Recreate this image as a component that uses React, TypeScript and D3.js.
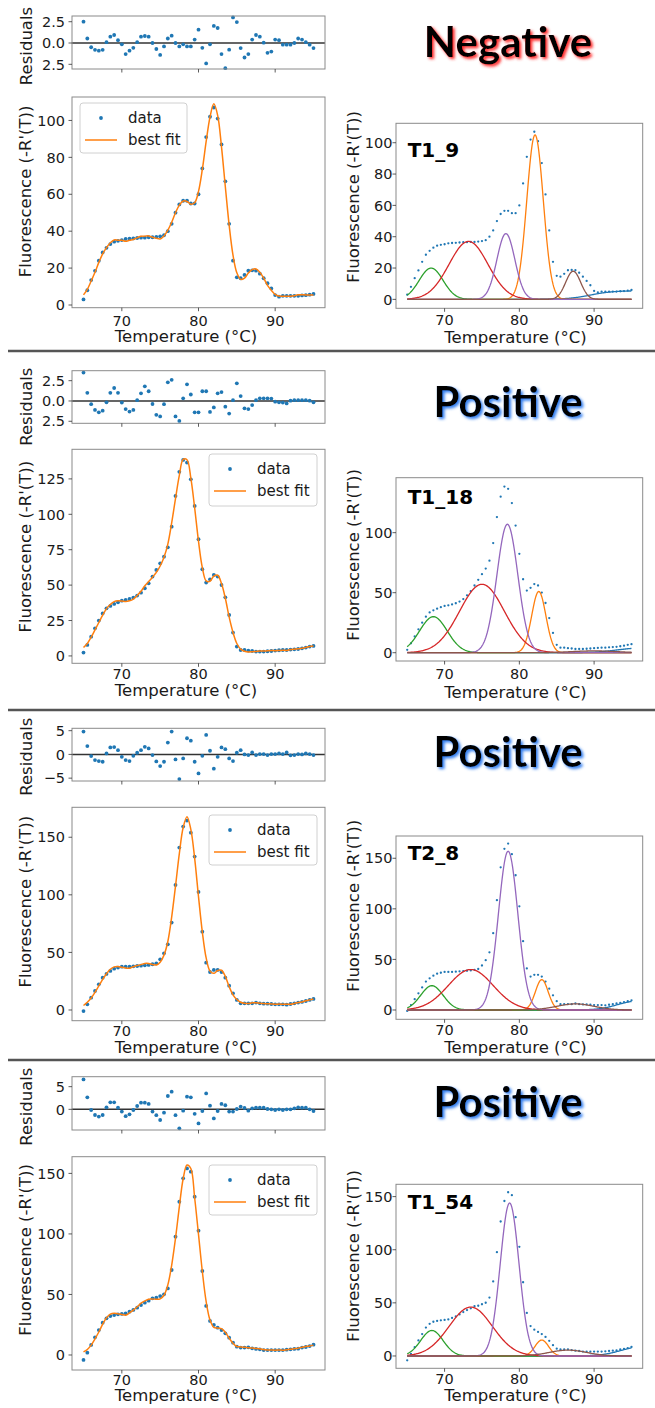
import React from "react";
import * as d3 from "d3";

// ---------------- DATA ----------------
const temperatures = [
  65, 65.5, 66, 66.5, 67, 67.5, 68, 68.5, 69, 69.5, 70, 70.5, 71, 71.5, 72, 72.5, 73, 73.5, 74, 74.5,
  75, 75.5, 76, 76.5, 77, 77.5, 78, 78.5, 79, 79.5, 80, 80.5, 81, 81.5, 82, 82.5, 83, 83.5, 84, 84.5,
  85, 85.5, 86, 86.5, 87, 87.5, 88, 88.5, 89, 89.5, 90, 90.5, 91, 91.5, 92, 92.5, 93, 93.5, 94, 94.5, 95,
];

const dataT1_9 = [3, 8, 13.5, 18.5, 24, 28.5, 31, 33, 34.3, 34.8, 35.2, 35.8, 36, 36.1, 36.3, 36.5, 36.5, 36.7, 36.7, 36.9,
  37.2, 37.8, 40, 44, 50, 54.5, 56.5, 56.5, 55, 55, 60, 74, 91, 102, 107, 101, 87, 67, 44, 24,
  15, 14.5, 16.3, 18.6, 18.8, 18.6, 17, 14.5, 11.8, 9, 5.4, 4.5, 5, 5, 5, 5, 5, 5.2, 5.3, 5.6, 6];
const residT1_9 = [2.5, 0.53, -0.5, -0.8, -0.9, -0.8, 0.1, 0.74, 0.94, 0.33, -0.16, -1.3, -0.9, -0.57, 0.1, 0.74, 0.82, 0.74, 0, -0.7,
  -1.4, -0.4, 0.53, 0.86, 0, -0.4, -0.16, -0.4, -0.4, 0.4, 1.56, -0.57, -2.4, -0.16, 2.0, 1.76, -1.3, -2.95, -0.78, 3.0,
  2.46, -0.6, -1.7, -1.3, 0.4, 0.94, 0.74, 0.04, -1.15, -1.0, 0.4, 0.33, -0.2, -0.2, -0.2, 0, 0.53, 0.4, 0.1, -0.2, -0.6];

const dataT1_18 = [2.4, 7.8, 13.6, 19.5, 25, 30, 33.6, 35.3, 36.7, 37.9, 39, 39.5, 40.2, 41.2, 42.6, 44.7, 47.8, 51.3, 56, 60.7,
  65.4, 70.1, 76.7, 91.3, 113, 130, 138.4, 136.5, 124.7, 105.9, 82.4, 61.2, 51.8, 54.1, 57.2, 56, 50.1, 41.4, 28.9, 16.5,
  6.6, 4.2, 4.2, 3.8, 3.5, 3.1, 3.1, 3.1, 3.3, 3.5, 3.8, 4, 4.2, 4.2, 4.5, 4.7, 4.9, 5.4, 5.9, 6.6, 7.1];
const residT1_18 = [3.5, 1.0, -0.4, -1.1, -1.4, -1.2, -0.16, 1.0, 1.6, 1.0, -0.2, -1.0, -1.3, -1.1, 0.1, 0.94, 1.8, 1.2, -0.37, -1.7,
  -1.9, -0.4, 2.3, 2.6, -1.9, -2.46, 0.33, 2.05, 0.8, -1.4, -1.4, 1.2, 1.2, -1.35, -0.8, 0.94, 1.1, -0.7, -1.55, 0.1,
  2.17, 0.6, -0.9, -1.0, -0.5, 0.1, 0.33, 0.33, 0.33, 0.3, -0.08, -0.16, -0.2, -0.3, 0.04, 0.1, 0.1, 0.1, 0.1, 0.04, -0.16];

const dataT2_8 = [-0.9, 4.9, 10.7, 16.5, 22.3, 28.1, 31.3, 33.9, 35.9, 36.8, 37.6, 37.6, 37.6, 37.9, 38.2, 38.5, 38.8, 39.1, 39.7, 40.5,
  44, 49.2, 57, 75.9, 108.6, 141, 159.3, 164.5, 154, 133.2, 102.5, 68, 41.1, 33, 34.8, 34.8, 33, 28.1, 21.1, 14.5,
  8.7, 5.8, 5.8, 5.8, 5.8, 6.4, 5.8, 5.5, 5.5, 5.2, 4.9, 4.9, 4.9, 4.6, 5.2, 5.8, 6.4, 7, 7.8, 8.7, 9.6];
const residT2_8 = [4.8, 1.76, -0.35, -1.2, -1.4, -1.55, 0.2, 1.48, 1.55, 0.9, -0.5, -1.2, -1.4, -0.3, 0.35, 0.9, 1.6, 1.27, -0.14, -1.48,
  -2.46, -1.55, 2.5, 4.8, -1.06, -5.2, -0.85, 3.4, 2.9, -1.55, -4.0, -0.3, 4.1, 0.77, -3.0, -0.5, 1.48, 1.1, -0.85, -1.4,
  0.35, 0.9, 0, -0.14, 0.4, -0.14, 0.07, 0.07, -0.14, 0.07, 0.07, 0.2, 0.07, 0.4, -0.2, -0.14, 0.07, 0, 0.2, 0.07, -0.14];

const dataT1_54 = [-4.1, 1.9, 8.3, 14.6, 20.6, 26.7, 30.3, 32.2, 33, 33.6, 33.9, 34.4, 35.8, 37.2, 39.1, 41.3, 43.2, 44.9, 46.8, 47.3,
  48.7, 50.1, 55, 70.2, 97.7, 126.6, 145.9, 154.1, 151.4, 130.7, 102.7, 69.4, 40.5, 28.1, 24.8, 22.6, 20.6, 17.9, 14.3, 10.2,
  6.9, 6.1, 6.1, 6.3, 5.5, 5, 4.7, 4.1, 4.1, 4.1, 4.1, 4.1, 4.1, 4.4, 4.7, 5, 5.2, 6.1, 6.6, 7.4, 8.5];
const residT1_54 = [6.6, 2.65, -0.15, -1.25, -1.6, -1.25, 0.44, 1.54, 1.54, 0.37, -0.5, -1.5, -1.1, -0.15, 0.74, 1.47, 1.47, 1.2, -0.5, -1.3,
  -2.35, -0.74, 2.94, 3.9, -1.3, -4.2, -0.3, 2.8, 2.65, -1.0, -3.1, -0.37, 3.5, 0.8, -2.0, -0.37, 1.2, 0.9, -0.5, -0.5,
  0.07, 0.6, 0.3, -0.3, 0.22, 0.37, 0.37, 0.37, 0.07, 0, -0.15, 0, -0.15, 0, 0, 0.22, 0.44, 0.37, 0.37, 0, -0.37];

// fitted peak components: [centre °C, height, sigma], order: orange, green, red, purple, brown
const peaksT1_9 = [[82.1, 105, 1.1], [68.2, 20, 1.6], [73.2, 37, 2.6], [78.2, 42, 1.2], [87.2, 18, 1.0]];
const peaksT1_18 = [[82.6, 51, 0.95], [68.5, 30, 1.85], [75.0, 57, 3.0], [78.4, 107, 1.4], [90.0, 1.5, 3.0]];
const peaksT2_8 = [[83.0, 30, 0.85], [68.3, 24, 1.5], [73.5, 40, 3.0], [78.5, 157, 1.3], [87.5, 6, 2.5]];
const peaksT1_54 = [[83.0, 15, 0.9], [68.3, 24, 1.5], [73.5, 46, 2.9], [78.7, 144, 1.25], [86.5, 5.5, 2.5]];
// rising baseline component: [height, midpoint °C, width]
const baselineT1_9 = [5.5, 89.5, 1.5];
const baselineT1_18 = [4.5, 93, 1.5];
const baselineT2_8 = [10, 93, 1.2];
const baselineT1_54 = [10, 93.5, 1.3];

const sampleNames = ["T1_9", "T1_18", "T2_8", "T1_54"];
const verdicts = ["Negative", "Positive", "Positive", "Positive"];
const xTickValues = [70, 80, 90];

// ---------------- STYLE / LAYOUT ----------------
const FONT = "'DejaVu Sans', Verdana, sans-serif";
const TITLE_FONT = "Lato, 'Open Sans', sans-serif";
const SPINE = "#8a8a8a";
const TICK = "#333";
const TXT = "#1a1a1a";
const C0 = "#1f77b4";
const componentColors = ["#ff7f0e", "#2ca02c", "#d62728", "#9467bd", "#8c564b"];
const X_DOMAIN = [63.5, 96.5];
const LX = [72, 325];
const RX = [396, 642.7];

const gaussian = (t: number, p: number[]) => p[1] * Math.exp(-((t - p[0]) ** 2) / (2 * p[2] * p[2]));
const logistic = (t: number, p: number[]) => p[0] / (1 + Math.exp(-(t - p[1]) / p[2]));

type Cfg = any;
const panels: Cfg[] = [
  {
    data: dataT1_9, resid: residT1_9, peaks: peaksT1_9, baseline: baselineT1_9, glow: "glowRed", titleY: 57,
    res: { y0: 16, y1: 69, dom: [-3.05, 3.17], ticks: [-2.5, 0, 2.5], labels: ["2.5", "0.0", "2.5"], labelY: 46 },
    main: { y0: 97, y1: 307.7, dom: [-1.46, 112.7], ticks: [0, 20, 40, 60, 80, 100], labelY: 191.5, xTickY: 320.7, xLabelY: 336 },
    legend: { x: 80, y: 103, w: 107, h: 50 },
    right: { y0: 123.3, y1: 308.3, dom: [-5.7, 112.4], ticks: [0, 20, 40, 60, 80, 100], labelY: 197, xTickY: 320, xLabelY: 336.7, nameY: 156.7 },
  },
  {
    data: dataT1_18, resid: residT1_18, peaks: peaksT1_18, baseline: baselineT1_18, glow: "glowBlue", titleY: 417,
    res: { y0: 370.7, y1: 423.3, dom: [-2.75, 3.73], ticks: [-2.5, 0, 2.5], labels: ["2.5", "0.0", "2.5"], labelY: 406.7 },
    main: { y0: 449.3, y1: 663.3, dom: [-5.2, 145.9], ticks: [0, 25, 50, 75, 100, 125], labelY: 546.7, xTickY: 673.3, xLabelY: 690 },
    legend: { x: 209, y: 454, w: 108, h: 52 },
    right: { y0: 477.7, y1: 661, dom: [-6.9, 145.8], ticks: [0, 50, 100], labelY: 555, xTickY: 673.3, xLabelY: 692, nameY: 504 },
  },
  {
    data: dataT2_8, resid: residT2_8, peaks: peaksT2_8, baseline: baselineT2_8, glow: "glowBlue", titleY: 767,
    res: { y0: 728.3, y1: 781, dom: [-5.6, 5.5], ticks: [-5, 0, 5], labels: ["\u22125", "0", "5"], labelY: 756.7 },
    main: { y0: 807.3, y1: 1020.7, dom: [-9.3, 176], ticks: [0, 50, 100, 150], labelY: 901.7, xTickY: 1031, xLabelY: 1047 },
    legend: { x: 209, y: 815, w: 108, h: 50 },
    right: { y0: 836, y1: 1019.3, dom: [-9.2, 172], ticks: [0, 50, 100, 150], labelY: 905.8, xTickY: 1030, xLabelY: 1047, nameY: 860 },
  },
  {
    data: dataT1_54, resid: residT1_54, peaks: peaksT1_54, baseline: baselineT1_54, glow: "glowBlue", titleY: 1117,
    res: { y0: 1076.7, y1: 1130, dom: [-4.56, 7.2], ticks: [0, 5], labels: ["0", "5"], labelY: 1106.7 },
    main: { y0: 1156.7, y1: 1370, dom: [-12.4, 163.8], ticks: [0, 50, 100, 150], labelY: 1250, xTickY: 1380, xLabelY: 1395 },
    legend: { x: 209, y: 1165, w: 108, h: 50 },
    right: { y0: 1184.3, y1: 1368.3, dom: [-11.6, 161.6], ticks: [0, 50, 100, 150], labelY: 1256, xTickY: 1379, xLabelY: 1395, nameY: 1209 },
  },
];

// ---------------- COMPONENTS ----------------
function Frame({ x0, x1, y0, y1 }: any) {
  return <rect x={x0} y={y0} width={x1 - x0} height={y1 - y0} fill="none" stroke={SPINE} strokeWidth={1} />;
}

function YTicks({ x0, y, ticks, labels, gap }: any) {
  return (
    <g>
      {ticks.map((t: number, i: number) => (
        <g key={i}>
          <line x1={x0 - 3.5} x2={x0} y1={y(t)} y2={y(t)} stroke={TICK} strokeWidth={0.8} />
          <text x={x0 - gap} y={y(t)} dy="0.36em" textAnchor="end" fontSize={14.5} fontFamily={FONT} fill={TXT}>
            {labels ? labels[i] : String(t)}
          </text>
        </g>
      ))}
    </g>
  );
}

function XTicks({ x, y1, labelY }: any) {
  return (
    <g>
      {xTickValues.map((t) => (
        <g key={t}>
          <line x1={x(t)} x2={x(t)} y1={y1} y2={y1 + 3.5} stroke={TICK} strokeWidth={0.8} />
          {labelY != null && (
            <text x={x(t)} y={labelY} dy="0.36em" textAnchor="middle" fontSize={14.5} fontFamily={FONT} fill={TXT}>
              {t}
            </text>
          )}
        </g>
      ))}
    </g>
  );
}

function VLabel({ x, y, text }: any) {
  return (
    <text transform={`translate(${x},${y}) rotate(-90)`} textAnchor="middle" dy="0.36em" fontSize={16.5} fontFamily={FONT} fill={TXT}>
      {text}
    </text>
  );
}

function Panel({ p, idx }: any) {
  const xL = d3.scaleLinear().domain(X_DOMAIN).range(LX);
  const xR = d3.scaleLinear().domain(X_DOMAIN).range(RX);
  const yRes = d3.scaleLinear().domain(p.res.dom).range([p.res.y1, p.res.y0]);
  const yMain = d3.scaleLinear().domain(p.main.dom).range([p.main.y1, p.main.y0]);
  const yR = d3.scaleLinear().domain(p.right.dom).range([p.right.y1, p.right.y0]);

  const fit = p.data.map((v: number, i: number) => v + p.resid[i]);
  const fitPath = d3
    .line<number>()
    .x((_, i) => xL(temperatures[i]))
    .y((d) => yMain(d))
    .curve(d3.curveCatmullRom)(fit);

  const grid = d3.range(650, 951).map((k) => k / 10);
  const curve = (f: (t: number) => number) =>
    d3.line<number>().x((t) => xR(t)).y((t) => yR(f(t)))(grid) as string;

  const lg = p.legend;
  return (
    <g>
      {/* Title */}
      <text x={508} y={p.titleY} textAnchor="middle" fontFamily={TITLE_FONT} fontWeight={700} fontSize={42} fill="#000" filter={`url(#${p.glow})`}>
        {verdicts[idx]}
      </text>

      {/* Residuals */}
      <line x1={LX[0]} x2={LX[1]} y1={yRes(0)} y2={yRes(0)} stroke="#333" strokeWidth={1.5} />
      {p.resid.map((r: number, i: number) => (
        <circle key={i} cx={xL(temperatures[i])} cy={yRes(r)} r={1.9} fill={C0} />
      ))}
      <Frame x0={LX[0]} x1={LX[1]} y0={p.res.y0} y1={p.res.y1} />
      <YTicks x0={LX[0]} y={yRes} ticks={p.res.ticks} labels={p.res.labels} gap={7} />
      <XTicks x={xL} y1={p.res.y1} />
      <VLabel x={26} y={p.res.labelY} text="Residuals" />

      {/* Main fit */}
      {p.data.map((v: number, i: number) => (
        <circle key={i} cx={xL(temperatures[i])} cy={yMain(v)} r={1.9} fill={C0} />
      ))}
      <path d={fitPath as string} fill="none" stroke="#ff7f0e" strokeWidth={1.5} />
      <Frame x0={LX[0]} x1={LX[1]} y0={p.main.y0} y1={p.main.y1} />
      <YTicks x0={LX[0]} y={yMain} ticks={p.main.ticks} gap={7} />
      <XTicks x={xL} y1={p.main.y1} labelY={p.main.xTickY} />
      <VLabel x={25} y={p.main.labelY} text="Fluorescence (-R'(T))" />
      <text x={186} y={p.main.xLabelY} dy="0.36em" textAnchor="middle" fontSize={16.5} fontFamily={FONT} fill={TXT}>
        Temperature (°C)
      </text>
      <rect x={lg.x} y={lg.y} width={lg.w} height={lg.h} rx={3} fill="#fff" fillOpacity={0.85} stroke="#d0d0d0" strokeWidth={1} />
      <circle cx={lg.x + 21} cy={lg.y + 15} r={1.9} fill={C0} />
      <text x={lg.x + 48} y={lg.y + 20} fontSize={15} fontFamily={FONT} fill={TXT}>data</text>
      <line x1={lg.x + 5} x2={lg.x + 37} y1={lg.y + 37} y2={lg.y + 37} stroke="#ff7f0e" strokeWidth={1.5} />
      <text x={lg.x + 48} y={lg.y + 42} fontSize={15} fontFamily={FONT} fill={TXT}>best fit</text>

      {/* Decomposition */}
      {p.data.map((v: number, i: number) => (
        <circle key={i} cx={xR(temperatures[i])} cy={yR(v)} r={1.15} fill={C0} />
      ))}
      <path d={curve((t) => logistic(t, p.baseline))} fill="none" stroke={C0} strokeWidth={1.3} />
      {p.peaks.map((pk: number[], i: number) => (
        <path key={i} d={curve((t) => gaussian(t, pk))} fill="none" stroke={componentColors[i]} strokeWidth={1.3} />
      ))}
      <Frame x0={RX[0]} x1={RX[1]} y0={p.right.y0} y1={p.right.y1} />
      <YTicks x0={RX[0]} y={yR} ticks={p.right.ticks} gap={3.5} />
      <XTicks x={xR} y1={p.right.y1} labelY={p.right.xTickY} />
      <VLabel x={353} y={p.right.labelY} text="Fluorescence (-R'(T))" />
      <text x={515.5} y={p.right.xLabelY} dy="0.36em" textAnchor="middle" fontSize={16.5} fontFamily={FONT} fill={TXT}>
        Temperature (°C)
      </text>
      <text x={407.7} y={p.right.nameY} fontSize={20} fontWeight="bold" fontFamily={FONT} fill="#000">
        {sampleNames[idx]}
      </text>
    </g>
  );
}

export default function App() {
  const separators = [351, 710, 1060];
  return (
    <div style={{ position: "absolute", left: 0, top: 0, background: "#fff" }}>
      <svg width={655} height={1408} viewBox="0 0 655 1408" style={{ display: "block" }}>
        <defs>
          <filter id="glowRed" x="-20%" y="-40%" width="140%" height="180%">
            <feGaussianBlur in="SourceAlpha" stdDeviation={1.6} result="b" />
            <feOffset in="b" dx={1.5} dy={2} result="o" />
            <feFlood floodColor="#ff2a2a" result="c" />
            <feComposite in="c" in2="o" operator="in" result="s" />
            <feMerge>
              <feMergeNode in="s" />
              <feMergeNode in="SourceGraphic" />
            </feMerge>
          </filter>
          <filter id="glowBlue" x="-20%" y="-40%" width="140%" height="180%">
            <feGaussianBlur in="SourceAlpha" stdDeviation={1.6} result="b" />
            <feOffset in="b" dx={1.5} dy={2} result="o" />
            <feFlood floodColor="#2f7cf0" result="c" />
            <feComposite in="c" in2="o" operator="in" result="s" />
            <feMerge>
              <feMergeNode in="s" />
              <feMergeNode in="SourceGraphic" />
            </feMerge>
          </filter>
        </defs>
        <rect x={0} y={0} width={655} height={1408} fill="#fff" />
        {separators.map((y) => (
          <line key={y} x1={8} x2={655} y1={y} y2={y} stroke="#555" strokeWidth={2.5} />
        ))}
        {panels.map((p, i) => (
          <Panel key={i} p={p} idx={i} />
        ))}
      </svg>
    </div>
  );
}
